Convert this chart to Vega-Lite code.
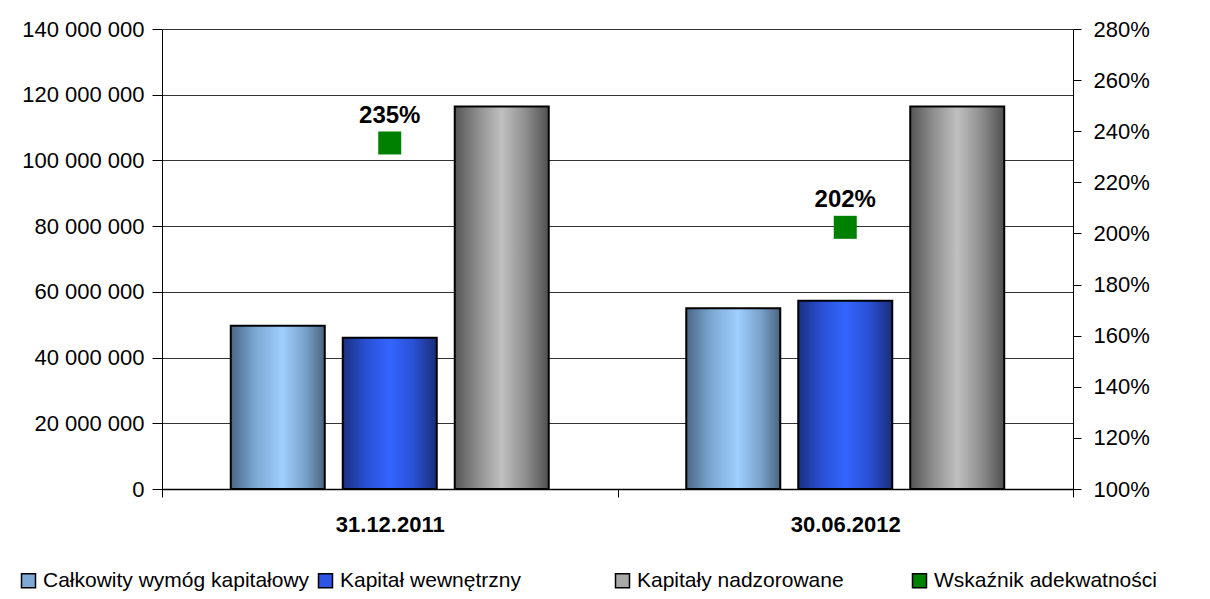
{
  "$schema": "https://vega.github.io/schema/vega-lite/v6.json",
  "width": 911,
  "height": 460,
  "autosize": {"type": "none"},
  "padding": {"left": 162, "top": 29, "right": 137, "bottom": 110},
  "config": {
    "font": "Liberation Sans",
    "view": {"stroke": null},
    "locale": {"number": {"decimal": ",", "thousands": " ", "grouping": [3], "currency": ["", " zł"]}}
  },
  "data": {
    "values": [
      {"kind": "bar", "date": "31.12.2011", "series": "Całkowity wymóg kapitałowy", "value": 49700000},
      {"kind": "bar", "date": "31.12.2011", "series": "Kapitał wewnętrzny", "value": 46000000},
      {"kind": "bar", "date": "31.12.2011", "series": "Kapitały nadzorowane", "value": 116400000},
      {"kind": "bar", "date": "30.06.2012", "series": "Całkowity wymóg kapitałowy", "value": 55000000},
      {"kind": "bar", "date": "30.06.2012", "series": "Kapitał wewnętrzny", "value": 57300000},
      {"kind": "bar", "date": "30.06.2012", "series": "Kapitały nadzorowane", "value": 116400000},
      {"kind": "ratio", "date": "31.12.2011", "series": "Wskaźnik adekwatności", "ratio": 2.354},
      {"kind": "ratio", "date": "30.06.2012", "series": "Wskaźnik adekwatności", "ratio": 2.024}
    ]
  },
  "layer": [
    {
      "encoding": {
        "x": {
          "field": "date", "type": "nominal", "sort": null,
          "scale": {"paddingInner": 0, "paddingOuter": 0},
          "axis": {
            "title": null, "labelAngle": 0, "labelFontSize": 22, "labelFontWeight": "bold", "labelColor": "#000",
            "labelPadding": 17, "tickBand": "extent", "tickSize": 8, "tickColor": "#000", "domainColor": "#000", "domainWidth": 1.5,
            "encode": {"ticks": {"enter": {"y": {"value": -8}}, "update": {"y": {"value": -8}, "y2": {"value": 8}}}}
          }
        },
        "xOffset": {
          "field": "series", "sort": null,
          "scale": {"domain": ["Całkowity wymóg kapitałowy", "Kapitał wewnętrzny", "Kapitały nadzorowane"], "paddingInner": 0.1607, "paddingOuter": 0.614}
        },
        "y": {
          "field": "value", "type": "quantitative",
          "scale": {"domain": [0, 140000000], "nice": false},
          "axis": {
            "title": null, "format": ",d", "values": [0, 20000000, 40000000, 60000000, 80000000, 100000000, 120000000, 140000000],
            "labelFontSize": 22, "labelColor": "#000", "labelPadding": 8, "tickSize": 10, "tickColor": "#000",
            "domainColor": "#000", "grid": true, "gridColor": "#333333", "gridWidth": 1
          }
        }
      },
      "layer": [
        {
          "transform": [{"filter": "datum.series === 'Całkowity wymóg kapitałowy'"}],
          "mark": {"type": "bar", "stroke": "#000000", "strokeWidth": 2,
            "fill": {"gradient": "linear", "x1": 0, "y1": 0, "x2": 1, "y2": 0, "stops": [{"offset": 0, "color": "#4b6684"}, {"offset": 0.25, "color": "#7aa5d0"}, {"offset": 0.55, "color": "#9fcfff"}, {"offset": 0.8, "color": "#78a0c8"}, {"offset": 1, "color": "#4a6480"}]}}
        },
        {
          "transform": [{"filter": "datum.series === 'Kapitał wewnętrzny'"}],
          "mark": {"type": "bar", "stroke": "#000000", "strokeWidth": 2,
            "fill": {"gradient": "linear", "x1": 0, "y1": 0, "x2": 1, "y2": 0, "stops": [{"offset": 0, "color": "#1a3080"}, {"offset": 0.25, "color": "#2a50d4"}, {"offset": 0.5, "color": "#3366ff"}, {"offset": 0.75, "color": "#2a50d4"}, {"offset": 1, "color": "#1a2e78"}]}}
        },
        {
          "transform": [{"filter": "datum.series === 'Kapitały nadzorowane'"}],
          "mark": {"type": "bar", "stroke": "#000000", "strokeWidth": 2,
            "fill": {"gradient": "linear", "x1": 0, "y1": 0, "x2": 1, "y2": 0, "stops": [{"offset": 0, "color": "#555555"}, {"offset": 0.25, "color": "#8f8f8f"}, {"offset": 0.5, "color": "#c0c0c0"}, {"offset": 0.75, "color": "#8f8f8f"}, {"offset": 1, "color": "#505050"}]}}
        }
      ]
    },
    {
      "transform": [{"filter": "datum.kind === 'ratio'"}],
      "encoding": {
        "x": {"field": "date", "type": "nominal", "sort": null},
        "y": {
          "field": "ratio", "type": "quantitative",
          "scale": {"domain": [1, 2.8], "nice": false},
          "axis": {
            "orient": "right", "title": null, "format": ".0%", "values": [1, 1.2, 1.4, 1.6, 1.8, 2, 2.2, 2.4, 2.6, 2.8],
            "labelFontSize": 22, "labelColor": "#000", "labelPadding": 12, "tickSize": 8, "tickColor": "#000",
            "domainColor": "#000", "grid": false,
            "encode": {"ticks": {"enter": {"x": {"value": -8}}, "update": {"x": {"value": -8}, "x2": {"value": 8}}}}
          }
        }
      },
      "layer": [
        {
          "mark": {"type": "point", "shape": "square", "filled": true, "size": 529, "opacity": 1},
          "encoding": {
            "color": {
              "field": "series", "type": "nominal",
              "scale": {
                "domain": ["Całkowity wymóg kapitałowy", "Kapitał wewnętrzny", "Kapitały nadzorowane", "Wskaźnik adekwatności"],
                "range": ["#7fa8d4", "#2c55e6", "#a8a8a8", "#008000"]
              },
              "legend": {
                "title": null, "orient": "none", "legendX": -144, "legendY": 541, "direction": "horizontal",
                "columns": 4, "gridAlign": "all",
                "symbolType": "square", "symbolSize": 196, "symbolStrokeColor": "#000", "symbolStrokeWidth": 1.5,
                "labelFontSize": 21, "labelColor": "#000", "labelLimit": 0, "columnPadding": 5, "labelOffset": 4
              }
            }
          }
        },
        {
          "mark": {"type": "text", "fontSize": 24, "fontWeight": "bold", "dy": -27, "color": "#000"},
          "encoding": {
            "text": {"field": "ratio", "type": "quantitative", "format": ".0%"}
          }
        }
      ]
    }
  ],
  "resolve": {"scale": {"y": "independent"}}
}
